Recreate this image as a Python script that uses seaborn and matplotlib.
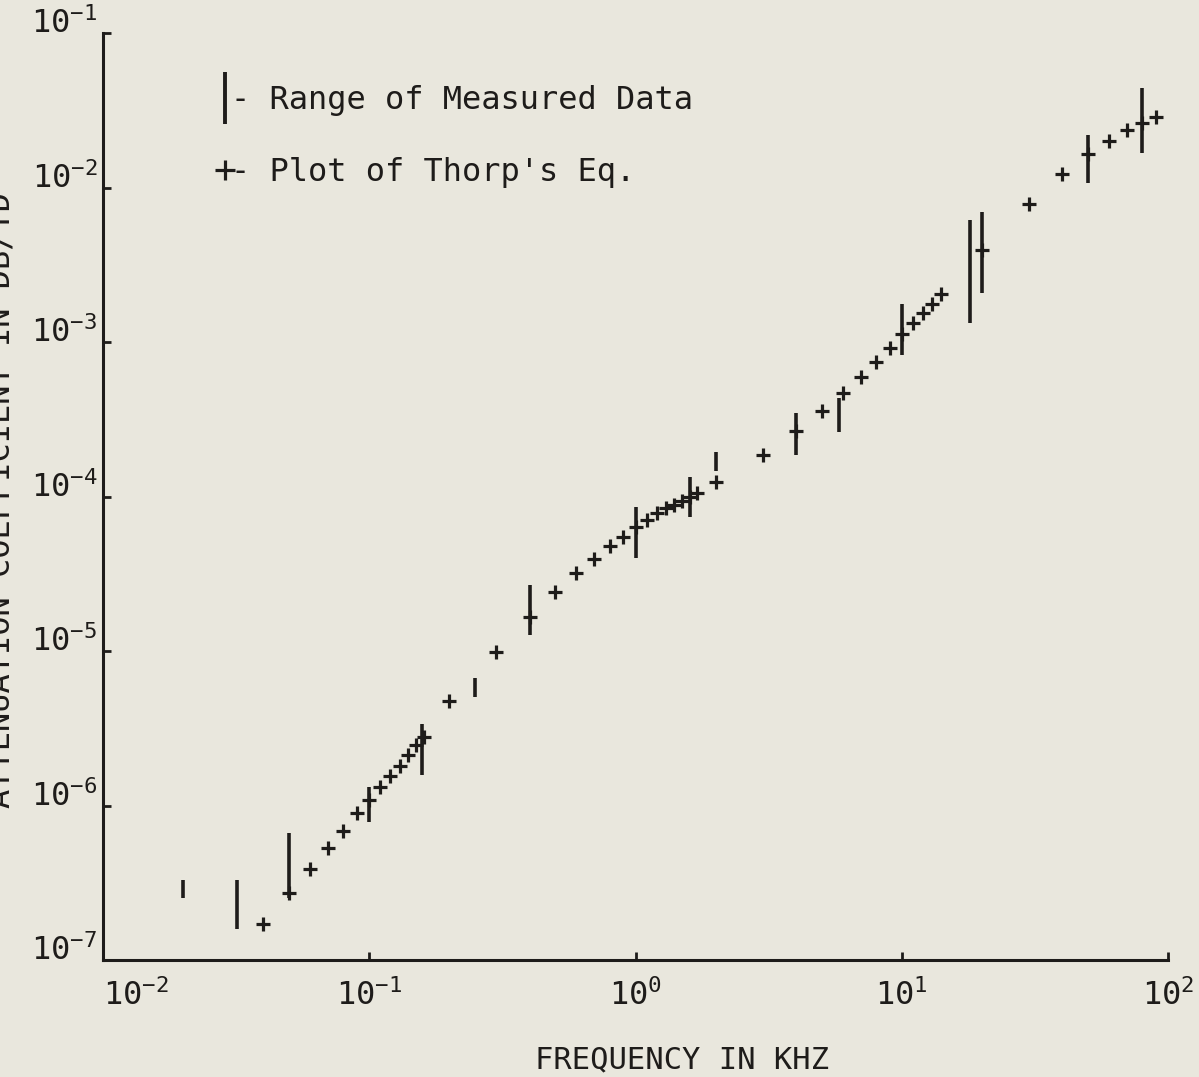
import matplotlib
matplotlib.use("Agg")
import matplotlib.pyplot as plt
import seaborn as sns
import numpy as np
import pandas as pd
from matplotlib.lines import Line2D

# ---- data ----
# Measured data ranges (vertical bars): frequency (kHz), low, high (dB/yd)
range_freq = [0.02, 0.032, 0.05, 0.10, 0.158, 0.25, 0.40, 1.0, 1.6, 2.0,
              4.0, 5.8, 10.0, 18.0, 20.0, 50.0, 80.0]
range_low = [2.52e-7, 1.59e-7, 2.52e-7, 7.82e-7, 1.58e-6, 5.04e-6, 1.27e-5,
             4.0e-5, 7.37e-5, 1.46e-4, 1.86e-4, 2.61e-4, 8.24e-4, 1.33e-3,
             2.07e-3, 1.07e-2, 1.67e-2]
range_high = [3.30e-7, 3.30e-7, 6.64e-7, 1.32e-6, 3.37e-6, 6.68e-6, 2.67e-5,
              8.55e-5, 1.34e-4, 1.94e-4, 3.47e-4, 4.34e-4, 1.76e-3, 6.17e-3,
              6.94e-3, 2.19e-2, 4.41e-2]

# Thorp's equation points
thorp_freq = [0.04, 0.05, 0.06, 0.07, 0.08, 0.09, 0.10, 0.11, 0.12, 0.13,
              0.14, 0.15, 0.16, 0.2, 0.3, 0.4, 0.5, 0.6, 0.7, 0.8, 0.9, 1.0,
              1.1, 1.2, 1.3, 1.4, 1.5, 1.6, 1.7, 2.0, 3.0, 4.0, 5.0, 6.0,
              7.0, 8.0, 9.0, 10.0, 11.0, 12.0, 13.0, 14.0, 20.0, 30.0, 40.0,
              50.0, 60.0, 70.0, 80.0, 90.0]
thorp_atten = [1.71e-7, 2.72e-7, 3.88e-7, 5.31e-7, 6.84e-7, 8.93e-7, 1.09e-6,
               1.32e-6, 1.55e-6, 1.80e-6, 2.12e-6, 2.47e-6, 2.78e-6, 4.74e-6,
               9.86e-6, 1.66e-5, 2.41e-5, 3.20e-5, 3.94e-5, 4.78e-5, 5.47e-5,
               6.35e-5, 7.05e-5, 7.82e-5, 8.43e-5, 8.81e-5, 9.35e-5, 1.00e-4,
               1.05e-4, 1.24e-4, 1.86e-4, 2.65e-4, 3.57e-4, 4.68e-4, 5.93e-4,
               7.42e-4, 9.14e-4, 1.13e-3, 1.33e-3, 1.54e-3, 1.76e-3, 2.05e-3,
               3.94e-3, 7.81e-3, 1.22e-2, 1.65e-2, 2.00e-2, 2.36e-2, 2.61e-2,
               2.86e-2]

legend_labels = ["- Range of Measured Data", "- Plot of Thorp's Eq."]
x_label = "FREQUENCY IN KHZ"
y_label = "ATTENUATION COEFFICIENT IN DB/YD"

# ---- styling ----
sns.set_theme(style="ticks")
paper = "#E9E7DD"
ink = "#1E1C1A"
plt.rcParams["font.family"] = ["DejaVu Sans Mono", "DejaVu Sans"]
plt.rcParams["mathtext.default"] = "regular"

fig = plt.figure(figsize=(11.99, 10.77), dpi=100, facecolor=paper)
W, H = 1199, 1077
ax = fig.add_axes([103 / W, 1 - 960 / H, (1168 - 103) / W, (960 - 33) / H])
ax.set_facecolor(paper)

ax.set_xscale("log")
ax.set_yscale("log")

ax.vlines(range_freq, range_low, range_high, colors=ink, linewidth=2.6)

thorp_df = pd.DataFrame({"freq": thorp_freq, "atten": thorp_atten})
sns.scatterplot(data=thorp_df, x="freq", y="atten", marker="+", s=105,
                color=ink, linewidth=2.3, ax=ax, legend=False, zorder=3)

ax.set_xlim(1e-2, 1e2)
ax.set_ylim(1e-7, 1e-1)
ax.set_xticks([1e-2, 1e-1, 1e0, 1e1, 1e2])
ax.set_yticks([1e-7, 1e-6, 1e-5, 1e-4, 1e-3, 1e-2, 1e-1])
ax.minorticks_off()
ax.set_ylabel("")

for s in ["top", "right"]:
    ax.spines[s].set_visible(False)
for s in ["left", "bottom"]:
    ax.spines[s].set_linewidth(2.2)
    ax.spines[s].set_color(ink)

ax.tick_params(axis="both", which="major", direction="in", length=6,
               width=2, colors=ink, labelsize=23)
ax.tick_params(axis="x", pad=14)
ax.tick_params(axis="y", pad=4)
for lab in ax.get_yticklabels():
    lab.set_verticalalignment("baseline")
ax.get_xticklabels()[0].set_horizontalalignment("left")

ax.set_xlabel(x_label, fontsize=22, color=ink)
ax.xaxis.set_label_coords((682 - 103) / (1168 - 103), -(1068 - 960) / (960 - 33))
ax.xaxis.label.set_verticalalignment("baseline")

fig.text(1 / W, 1 - 500 / H, y_label, rotation=90, ha="center", va="center",
         fontsize=23, color=ink)

handles = [
    Line2D([], [], marker="|", markersize=38, markeredgewidth=2.8,
           linestyle="none", color=ink),
    Line2D([], [], marker="+", markersize=14, markeredgewidth=2.3,
           linestyle="none", color=ink),
]
ax.legend(handles, legend_labels, loc="upper left",
          bbox_to_anchor=((199 - 103) / (1168 - 103), 1 - (72 - 33) / (960 - 33)),
          frameon=False, fontsize=23, handlelength=0.8, handletextpad=-0.2,
          labelspacing=1.3, labelcolor=ink, borderaxespad=0)

fig.savefig("out.png", dpi=100, facecolor=paper)
